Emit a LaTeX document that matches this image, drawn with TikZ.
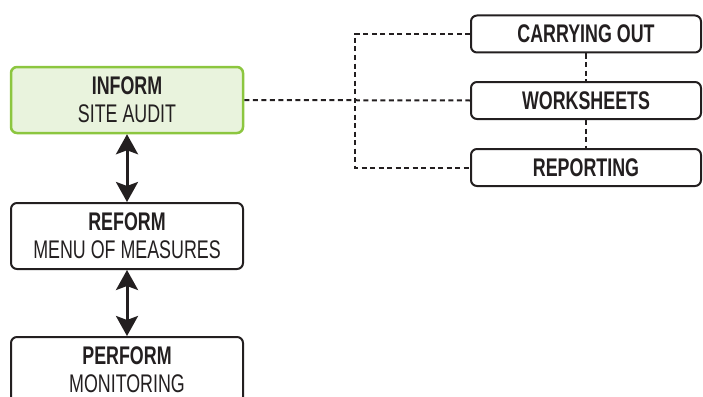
\documentclass[tikz,border=0pt]{standalone}
\usepackage{fontspec}
\setmainfont[FakeStretch=0.7]{Liberation Sans}
\usepackage{tikz}
\usetikzlibrary{arrows.meta}
\definecolor{ink}{HTML}{231F20}
\definecolor{leaf}{HTML}{8CC63F}
\definecolor{leaffill}{HTML}{E9F3DD}
\tikzset{
  box/.style={draw=ink, line width=2pt, rounded corners=6pt, fill=white,
    text=ink, align=center, font=\fontsize{25.5}{28}\selectfont,
    minimum width=232pt, minimum height=66pt, inner sep=0pt},
  greenbox/.style={box, draw=leaf, fill=leaffill, line width=2.5pt},
  smallbox/.style={box, minimum width=230pt, minimum height=37pt, font=\fontsize{25.5}{28}\selectfont\bfseries},
  dots/.style={draw=ink, line width=2pt, dash pattern=on 5pt off 3.5pt},
  twoway/.style={draw=ink, line width=3pt, {Stealth[length=20pt,width=22pt,inset=4pt]}-{Stealth[length=20pt,width=22pt,inset=4pt]}},
}
\begin{document}
\begin{tikzpicture}[x=1pt,y=-1pt]
  \useasboundingbox (0,0) rectangle (703,396);
  \clip (0,0) rectangle (703,396);
  % left column
  \node[greenbox] (inform) at (127,100) {\textbf{INFORM}\\SITE AUDIT};
  \node[box] (reform) at (127,236) {\textbf{REFORM}\\MENU OF MEASURES};
  \node[box] (perform) at (127,370) {\textbf{PERFORM}\\MONITORING};
  \draw[twoway] (inform) -- (reform);
  \draw[twoway] (reform) -- (perform);
  % right column
  \node[smallbox] (carry) at (586,34) {CARRYING OUT};
  \node[smallbox] (work) at (586,100.5) {WORKSHEETS};
  \node[smallbox] (report) at (586,167.5) {REPORTING};
  \coordinate (jx) at (355,100.5);
  \draw[dots] (inform.east) -- (work.west);
  \draw[dots] (carry.west) -- (carry.west -| jx) -- (report.west -| jx) -- (report.west);
  \draw[dots] (carry) -- (work);
  \draw[dots] (work) -- (report);
\end{tikzpicture}
\end{document}
